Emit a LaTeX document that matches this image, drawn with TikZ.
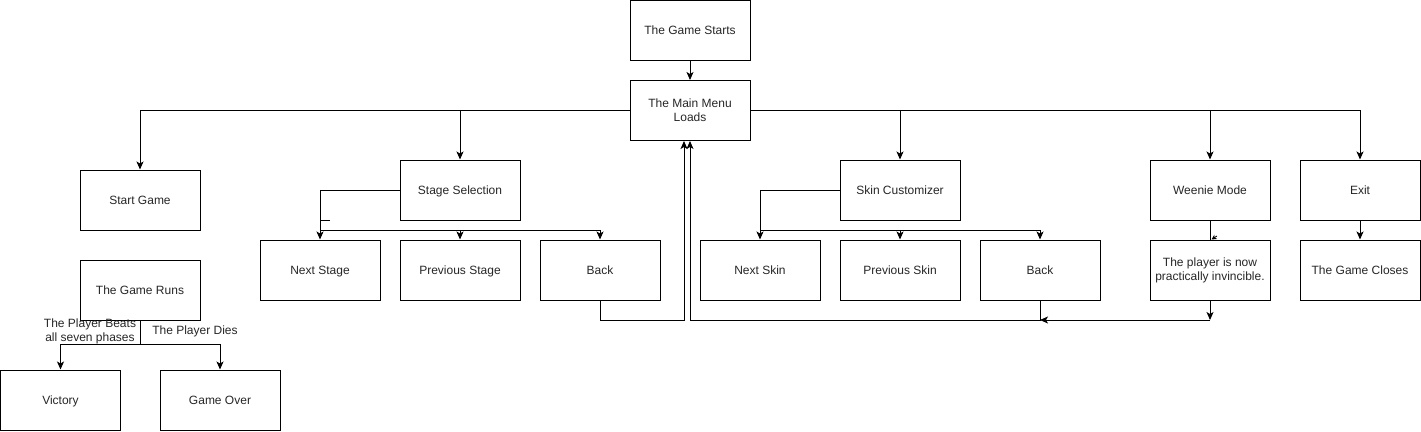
\documentclass[tikz,border=0pt]{standalone}
\usepackage{fontspec}
\setmainfont{Liberation Sans}
\usetikzlibrary{arrows.meta}
\begin{document}
\begin{tikzpicture}[x=1pt,y=-1pt,
  box/.style={draw=black,line width=1pt,minimum width=120pt,minimum height=60pt,inner sep=0pt,align=center,font=\fontsize{12}{14}\selectfont,text=black!85},
  one/.style={box,text height=10pt,text depth=2pt},
  arr/.style={line width=1pt,-{Stealth[length=8pt,width=7pt,inset=2pt]}},
  ln/.style={line width=1pt},
  lbl/.style={align=center,inner sep=0pt,font=\fontsize{12}{14}\selectfont,text=black!85}]
\useasboundingbox (0,0) rectangle (1421,431);
\node[one] (starts) at (690,30) {The Game Starts};
\node[box] (menu) at (690,110.5) {The Main Menu\\Loads};
\node[one] (start) at (140,200) {Start Game};
\node[one] (stage) at (460,190) {Stage Selection};
\node[one] (skin) at (900,190) {Skin Customizer};
\node[one] (weenie) at (1210,190) {Weenie Mode};
\node[one] (exit) at (1360,190) {Exit};
\node[one] (nexts) at (320,270) {Next Stage};
\node[one] (prevs) at (460,270) {Previous Stage};
\node[one] (backs) at (600,270) {Back};
\node[one] (nextk) at (760,270) {Next Skin};
\node[one] (prevk) at (900,270) {Previous Skin};
\node[one] (backk) at (1040,270) {Back};
\node[box] (inv) at (1210,270.5) {The player is now\\practically invincible.};
\node[one] (closes) at (1360,270) {The Game Closes};
\node[one] (runs) at (140,290) {The Game Runs};
\node[one] (vic) at (60.5,400) {Victory};
\node[one] (over) at (220,400) {Game Over};
\node[lbl] (lwin) at (90,331.5) {The Player Beats\\all seven phases};
\node[lbl] (ldie) at (195,331.5) {The Player Dies};
% top
\draw[arr] (starts.south) -- (menu.north);
\draw[arr] (menu.west) -| (start.north);
\draw[arr] (menu.west) -| (stage.north);
\draw[arr] (menu.east) -| (skin.north);
\draw[arr] (menu.east) -| (weenie.north);
\draw[arr] (menu.east) -| (exit.north);
% stage selection
\coordinate (sj) at (320,230);
\draw[arr] (stage.west) -| (nexts.north);
\draw[arr] (stage.west) -| (sj) -| (prevs.north);
\draw[arr] (stage.west) -| (sj) -| (backs.north);
\coordinate (stub) at (330,220);
\draw[ln] (nexts.north |- stub) -- (stub);
% skin customizer
\coordinate (kj) at (760,230);
\draw[arr] (skin.west) -| (nextk.north);
\draw[arr] (skin.west) -| (kj) -| (prevk.north);
\draw[arr] (skin.west) -| (kj) -| (backk.north);
% back returns
\draw[arr] (backs.south) -- ++(0,20) -| ([xshift=-6pt]menu.south);
\draw[arr] (backk.south) -- ++(0,20) -| (menu.south);
% weenie
\draw[ln] (weenie.south) -- (inv.north);
\draw[-{Stealth[length=5pt,width=5pt,inset=1.5pt]},line width=0.8pt] (1217,236) -- (1211.5,239.5);
\coordinate (wj) at (1210,320);
\draw[arr] (inv.south) -- (wj);
\draw[arr] (wj) -- (backk.south |- wj);
% exit
\draw[arr] (exit.south) -- (closes.north);
% game runs
\draw[arr] (runs.south) -- ++(0,24) -| (vic.north);
\draw[arr] (runs.south) -- ++(0,24) -| (over.north);
\end{tikzpicture}
\end{document}
